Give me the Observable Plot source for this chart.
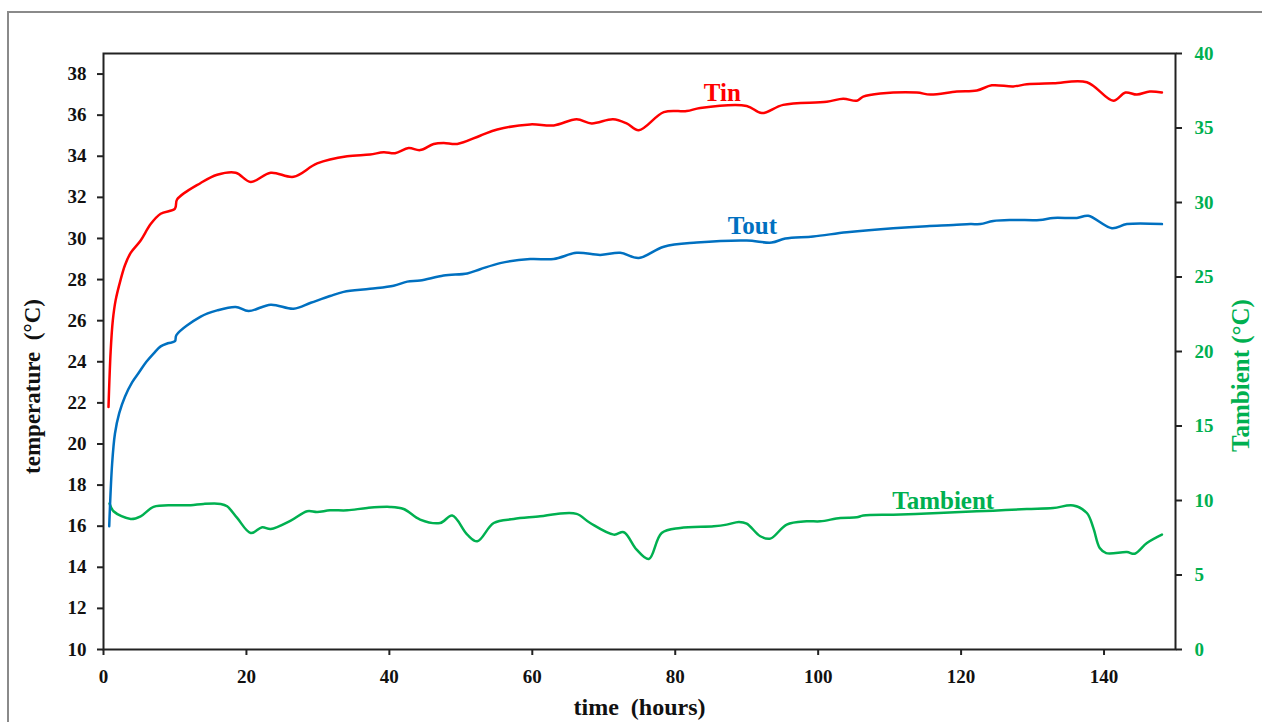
<!DOCTYPE html>
<html><head><meta charset="utf-8">
<script src="https://cdn.jsdelivr.net/npm/d3@7"></script>
<script src="https://cdn.jsdelivr.net/npm/@observablehq/plot@0.6"></script>
<style>
body{margin:0;background:#fff;overflow:hidden}
#wrap{position:relative;width:1262px;height:722px;overflow:hidden;background:#fff}
#border{position:absolute;left:7px;top:11px;width:1300px;height:800px;border:2px solid #8a8a8a}
#chart{position:absolute;left:0;top:0}
</style></head><body><div id="wrap"><div id="border"></div><div id="chart"></div></div>
<script>
// ---- data ----
const tinHours = [0.7,1.0,1.3,1.7,2.4,3.0,3.8,5.2,6.6,8.0,10.0,10.3,13.6,15.9,18.5,20.6,23.4,26.6,29.9,34.1,37.3,39.2,40.8,42.7,44.3,46.2,47.6,49.5,52.7,55.1,59.7,63.0,66.2,68.3,71.3,73.2,74.9,78.4,81.6,83.5,90.0,92.1,95.1,101.2,103.5,105.4,106.3,108.7,113.8,115.7,119.4,122.2,124.3,127.3,129.2,132.9,137.6,141.3,143.0,144.6,146.4,148.1];
const tinTemp = [21.8,24.5,26.0,27.0,28.0,28.7,29.3,29.9,30.7,31.2,31.45,31.9,32.7,33.1,33.2,32.75,33.2,33.0,33.65,34.0,34.08,34.2,34.15,34.4,34.3,34.6,34.65,34.6,35.0,35.3,35.55,35.5,35.8,35.6,35.8,35.6,35.27,36.15,36.2,36.35,36.45,36.1,36.5,36.65,36.8,36.7,36.9,37.05,37.1,37.0,37.15,37.2,37.45,37.4,37.5,37.55,37.6,36.7,37.1,37.0,37.15,37.1];

const toutHours = [0.8,1.2,1.6,2.2,3.0,4.0,5.0,6.0,7.0,8.0,9.0,10.0,10.2,13.6,15.9,18.5,20.3,23.4,26.6,29.0,31.7,33.6,37.3,40.6,42.5,44.3,47.6,50.9,52.7,55.5,59.7,63.0,66.2,69.5,72.3,74.9,78.4,83.0,90.0,93.5,95.4,99.3,104.0,110.5,115.2,118.9,121.3,122.7,124.5,127.3,131.0,132.9,136.2,137.8,141.1,143.2,148.1];
const toutTemp = [16.0,19.0,20.5,21.5,22.3,23.0,23.5,24.0,24.4,24.75,24.9,25.0,25.3,26.2,26.5,26.67,26.47,26.78,26.58,26.87,27.2,27.4,27.55,27.7,27.9,27.95,28.2,28.3,28.5,28.8,29.0,29.0,29.3,29.2,29.3,29.05,29.6,29.8,29.9,29.8,30.0,30.1,30.3,30.5,30.6,30.65,30.7,30.7,30.85,30.9,30.9,31.0,31.0,31.1,30.5,30.7,30.7];

const ambHours = [0.84,1.4,3.8,5.2,7.0,9.8,12.2,14.0,16.4,17.3,18.7,20.6,22.2,23.4,26.2,28.5,29.9,31.7,34.1,36.9,40.1,42.0,44.3,47.1,48.8,50.9,52.3,54.6,57.4,61.1,63.4,66.2,68.1,71.4,72.8,74.6,76.3,78.1,80.7,85.4,87.2,88.9,90.0,91.9,93.3,95.6,98.4,100.3,103.1,105.4,106.3,110.5,115.2,119.9,124.5,129.2,132.9,135.7,137.6,138.5,139.4,140.3,143.2,144.3,146.0,148.1];
const ambTemp = [9.8,9.28,8.76,8.94,9.57,9.68,9.68,9.77,9.77,9.61,8.83,7.82,8.2,8.09,8.65,9.28,9.23,9.34,9.34,9.5,9.57,9.43,8.72,8.49,8.99,7.71,7.26,8.49,8.76,8.94,9.1,9.1,8.49,7.71,7.87,6.7,6.07,7.82,8.16,8.27,8.38,8.56,8.45,7.6,7.44,8.38,8.6,8.6,8.83,8.87,8.99,9.05,9.12,9.23,9.32,9.43,9.5,9.66,9.16,8.16,6.81,6.47,6.54,6.43,7.15,7.71];

const xTicks = [0,20,40,60,80,100,120,140];
const leftTicks = [10,12,14,16,18,20,22,24,26,28,30,32,34,36,38];
const rightTicks = [0,5,10,15,20,25,30,35,40];
const leftDomain = [10,39];
const rightDomain = [0,40];

const seriesNames = ["Tin","Tout","Tambient"];
const labelHours = [86.6,90.8,117.5];
const labelValues = [37.07,30.6,10.0];   // Tambient label in right-axis units

// ---- helpers ----
const RED = "#ff0000", BLUE = "#0070c0", GREEN = "#00b050";
const toLeft = v => leftDomain[0] + (v - rightDomain[0]) * (leftDomain[1]-leftDomain[0]) / (rightDomain[1]-rightDomain[0]);
const fromLeft = y => rightDomain[0] + (y - leftDomain[0]) * (rightDomain[1]-rightDomain[0]) / (leftDomain[1]-leftDomain[0]);

const tin = tinHours.map((t,i) => ({t, v: tinTemp[i]}));
const tout = toutHours.map((t,i) => ({t, v: toutTemp[i]}));
const amb = ambHours.map((t,i) => ({t, v: toLeft(ambTemp[i])}));
const labels = seriesNames.map((name,i) => ({name, t: labelHours[i], v: i === 2 ? toLeft(labelValues[i]) : labelValues[i]}));
const labelColors = [RED, BLUE, GREEN];

const serif = "'Liberation Serif', 'DejaVu Serif', serif";

const chart = Plot.plot({
  width: 1262,
  height: 722,
  marginLeft: 103,
  marginRight: 87,
  marginTop: 53,
  marginBottom: 73,
  style: {fontFamily: serif, fontWeight: "bold", fontSize: "19px", color: "#111", background: "transparent"},
  x: {domain: [0,150]},
  y: {domain: leftDomain},
  marks: [
    Plot.line(amb, {x: "t", y: "v", stroke: GREEN, strokeWidth: 2.5, curve: "catmull-rom"}),
    Plot.line(tout, {x: "t", y: "v", stroke: BLUE, strokeWidth: 2.5, curve: "catmull-rom"}),
    Plot.line(tin, {x: "t", y: "v", stroke: RED, strokeWidth: 2.5, curve: "catmull-rom"}),
    Plot.frame({stroke: "#222", strokeWidth: 2}),
    Plot.axisX(xTicks, {tickSize: 6, tickPadding: 14, label: null, strokeWidth: 2, stroke: "#222", fill: "#111"}),
    Plot.axisY(leftTicks, {tickSize: 6, tickPadding: 11, label: null, strokeWidth: 2, stroke: "#222", fill: "#111"}),
    Plot.axisY(rightTicks.map(toLeft), {anchor: "right", tickSize: 6, tickPadding: 13, label: null, strokeWidth: 2, stroke: "#222", fill: GREEN, tickFormat: d => String(Math.round(fromLeft(d)))}),
    Plot.text(labels, {x: "t", y: "v", text: "name", fill: (d) => labelColors[seriesNames.indexOf(d.name)], fontSize: 25, fontWeight: "bold", fontFamily: serif}),
    Plot.text(["temperature\u00a0 (°C)"], {frameAnchor: "left", dx: -71, dy: 35, rotate: -90, textAnchor: "middle", lineAnchor: "middle", fontSize: 23, fontWeight: "bold", fill: "#111", fontFamily: serif}),
    Plot.text(["Tambient (°C)"], {frameAnchor: "right", dx: 65, dy: 24, rotate: -90, textAnchor: "middle", lineAnchor: "middle", fontSize: 25, fontWeight: "bold", fill: GREEN, fontFamily: serif}),
    Plot.text(["time\u00a0 (hours)"], {frameAnchor: "bottom", dy: 58, textAnchor: "middle", lineAnchor: "middle", fontSize: 24, fontWeight: "bold", fill: "#111", fontFamily: serif})
  ]
});
document.getElementById("chart").appendChild(chart);
</script>
</body></html>
